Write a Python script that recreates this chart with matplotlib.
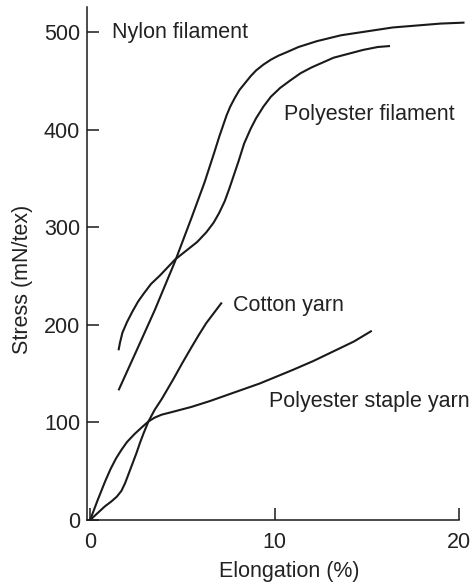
import matplotlib
matplotlib.use("Agg")
import matplotlib.pyplot as plt

# Stress-strain curves of textile materials (elongation %, stress mN/tex)
nylon_x = [1.54, 2.5, 3.5, 4.6, 5.5, 6.2, 6.7, 7.0, 7.2, 7.4, 7.6, 7.85, 8.1, 8.4, 8.7, 9.0, 9.4,
           9.8, 10.2, 10.7, 11.3, 12.3, 13.6, 15.0, 16.4, 17.7, 19.0, 20.3]
nylon_y = [133, 173, 215, 265, 310, 346, 375, 393, 404, 415, 424, 433, 441, 448, 455, 461, 467,
           472, 476, 480, 485, 491, 497, 501, 505, 507, 509, 510]

pfil_x = [1.54, 1.62, 1.75, 2.0, 2.3, 2.6, 2.9, 3.3, 3.8, 4.2, 4.6, 5.2, 5.8, 6.3, 6.7, 7.0, 7.3,
          7.55, 7.8, 8.05, 8.35, 8.7, 9.0, 9.4, 9.8, 10.3, 10.8, 11.4, 12.0, 12.6, 13.2, 14.0, 14.8,
          15.6, 16.26]
pfil_y = [174, 182, 192, 203, 214, 224, 232, 242, 251, 259, 267, 276, 285, 295, 305, 315, 327,
          340, 354, 368, 386, 401, 412, 424, 434, 443, 450, 458, 464, 469, 474, 478, 482,
          485, 486]

cotton_x = [0, 0.4, 0.8, 1.15, 1.45, 1.7, 1.9, 2.1, 2.3, 2.5, 2.7, 2.9, 3.16, 3.5, 3.88, 4.5,
            5.0, 5.46, 5.9, 6.3, 6.7, 7.14]
cotton_y = [0, 7, 14, 19, 24, 30, 38, 48, 58, 68, 79, 89, 101, 113, 124, 144, 161, 176, 190,
            202, 212, 223]

staple_x = [0, 0.4, 0.8, 1.1, 1.4, 1.7, 2.0, 2.4, 2.8, 3.16, 3.5, 3.88, 4.5, 5.5, 6.5, 7.4, 8.3,
            9.2, 10.1, 11.0, 12.1, 13.2, 14.3, 15.27]
staple_y = [0, 20, 39, 52, 63, 72, 80, 88, 95, 101, 105, 108, 111, 116, 122, 128, 134,
            140, 147, 154, 163, 173, 183, 194]

labels = ["Nylon filament", "Polyester filament", "Cotton yarn", "Polyester staple yarn"]
label_pos = [(1.2, 500), (10.5, 416), (7.75, 220), (9.7, 121)]

x_ticks = [0, 10, 20]
y_ticks = [0, 100, 200, 300, 400, 500]

plt.rcParams["font.family"] = ["Liberation Sans", "DejaVu Sans"]
text_color = "#222222"
line_color = "#1a1a1a"

fig = plt.figure(figsize=(4.73, 5.84), dpi=100)
ax = fig.add_axes([87 / 473, 1 - 520 / 584, (459 - 87) / 473, (520 - 7) / 584])

for xs, ys in [(nylon_x, nylon_y), (pfil_x, pfil_y), (cotton_x, cotton_y), (staple_x, staple_y)]:
    ax.plot(xs, ys, color=line_color, lw=1.5, solid_capstyle="butt",
            solid_joinstyle="round", clip_on=False)

for text, (tx, ty) in zip(labels, label_pos):
    ax.text(tx, ty, text, fontsize=15.5, color=text_color, ha="left", va="center")

ax.set_xlim(-0.17, 20)
ax.set_ylim(0, 526)
ax.set_xticks(x_ticks)
ax.set_yticks(y_ticks)

for side in ["top", "right"]:
    ax.spines[side].set_visible(False)
for side in ["left", "bottom"]:
    ax.spines[side].set_linewidth(1.1)
    ax.spines[side].set_color(line_color)

ax.tick_params(axis="both", direction="in", length=8.5, width=1.1, color=line_color,
               labelsize=15.5, labelcolor=text_color)
ax.tick_params(axis="y", pad=5)
ax.tick_params(axis="x", pad=9)

ax.set_xlabel("Elongation (%)", fontsize=15.5, color=text_color)
ax.set_ylabel("Stress (mN/tex)", fontsize=15.5, color=text_color)
ax.xaxis.set_label_coords(0.543, -0.08)
ax.yaxis.set_label_coords(-0.145, 0.47)

fig.savefig("out.png", dpi=100)
